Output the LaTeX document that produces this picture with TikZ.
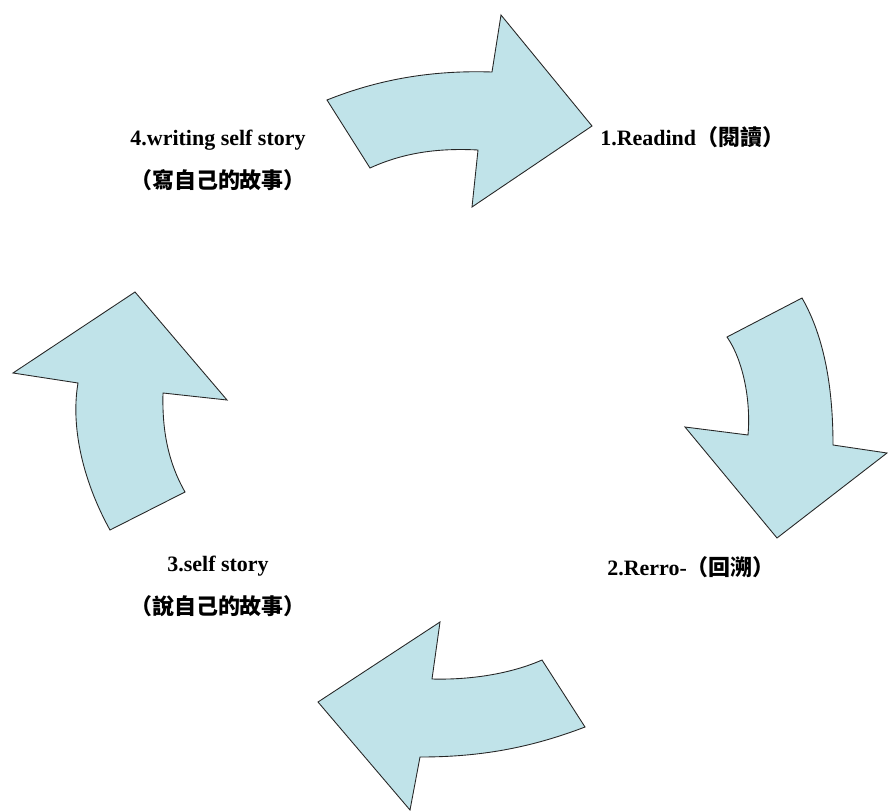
\documentclass[tikz,border=0pt]{standalone}
\usepackage{fontspec}
\setmainfont{Liberation Serif}
\newfontfamily\cjk{Noto Sans CJK TC}
\definecolor{paleblue}{RGB}{192,227,233}
\begin{document}
\begin{tikzpicture}[x=.02cm,y=-.02cm,
 curvearrow/.style={fill=paleblue,draw=black!85,line width=.5pt,line join=miter},
 lbl/.style={font=\fontsize{12.5}{15}\selectfont\bfseries,inner sep=0pt}]
 \useasboundingbox (0,0) rectangle (888,811);
 % <<< mũi tên trên
 \draw[curvearrow] (327,100) .. controls (377,80) and (430,70) .. (492,72)
 --(501,15)--(592,126)--(472,207)--(478,150)
 .. controls (440,148) and (405,152) .. (370,168)--cycle;
 % <<< mũi tên phải
 \draw[curvearrow] (802,298) .. controls (825,338) and (833,390) .. (833,445)
 --(887,453)--(777,538)--(685,427)--(748,435)
 .. controls (751,400) and (743,360) .. (727,337)--cycle;
 % <<< mũi tên dưới
 \draw[curvearrow] (585,727) .. controls (530,748) and (480,757) .. (420,757)
 --(410,810)--(318,702)--(440,622)--(432,679)
 .. controls (470,680) and (510,674) .. (542,660)--cycle;
 % <<< mũi tên trái
 \draw[curvearrow] (110,530) .. controls (85,485) and (70,430) .. (78,383)
 --(13,373)--(135,292)--(227,400)--(163,393)
 .. controls (162,430) and (168,462) .. (185,492)--cycle;
 \path
 (600,137) node[lbl,anchor=west] (read) {1.Readind{\cjk （閱讀）}} % <<< 1
 (607,567) node[lbl,anchor=west] (retro) {2.Rerro-{\cjk （回溯）}} % <<< 2
 (218,566) node[lbl] (tell) {3.self story} % <<< 3
 ++(0,40) node[lbl] (telltw) {\cjk （說自己的故事）}
 (218,140) node[lbl] (write) {4.writing self story} % <<< 4
 ++(0,40) node[lbl] (writetw) {\cjk （寫自己的故事）};
\end{tikzpicture}
\end{document}
